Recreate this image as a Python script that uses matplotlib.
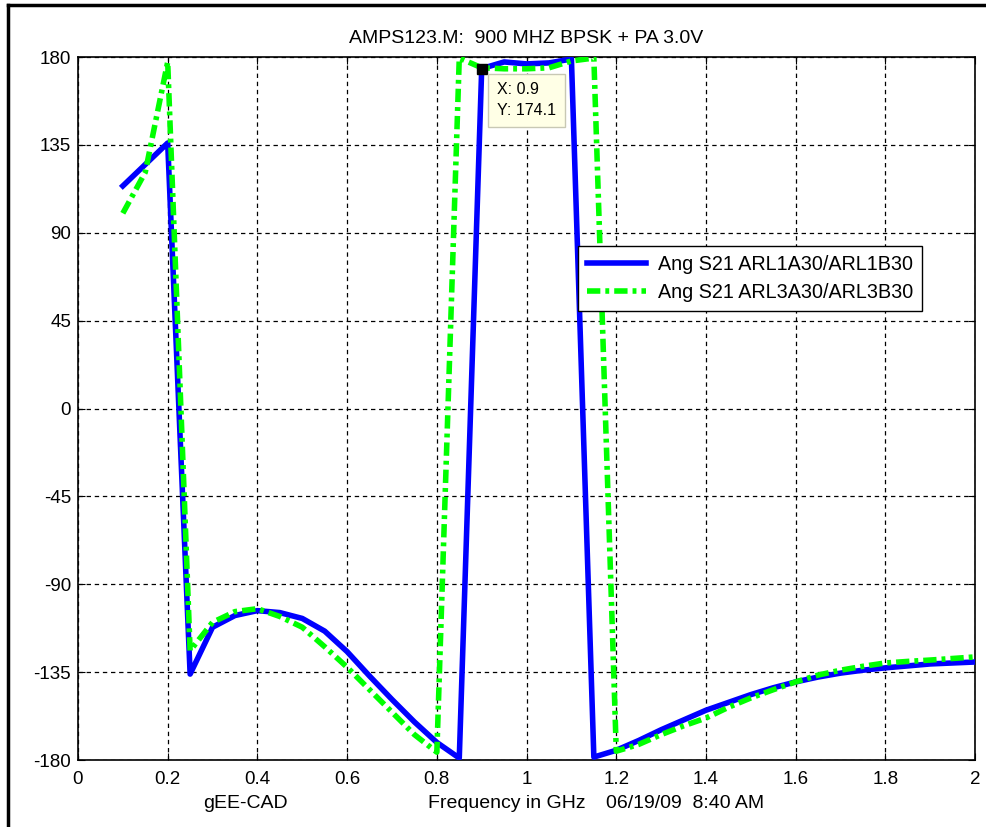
"""Plot the S21 phase response of the two ARL filter sets."""

import matplotlib

matplotlib.use("Agg")
import matplotlib.pyplot as plt
from matplotlib.lines import Line2D
from matplotlib.ticker import FuncFormatter


FREQ_GHZ = [
    0.10, 0.15, 0.20, 0.25, 0.30, 0.35, 0.40, 0.45, 0.50, 0.55,
    0.60, 0.65, 0.70, 0.75, 0.80, 0.85, 0.90, 0.95, 1.00, 1.05,
    1.10, 1.15, 1.20, 1.25, 1.30, 1.35, 1.40, 1.45, 1.50, 1.55,
    1.60, 1.65, 1.70, 1.75, 1.80, 1.85, 1.90, 1.95, 2.00,
]
ANG_ARL1 = [
    114.0, 125.0, 136.0, -136.0, -112.0, -106.0, -103.5, -104.5, -107.5, -114.0,
    -124.5, -137.0, -149.0, -160.5, -171.0, -179.0, 174.1, 177.5, 176.5, 177.0,
    179.0, -178.5, -175.0, -170.0, -164.5, -159.5, -154.5, -150.5, -146.5, -143.0,
    -140.0, -137.5, -135.5, -134.0, -132.8, -131.8, -130.8, -130.3, -129.8,
]
ANG_ARL3 = [
    100.0, 121.0, 177.5, -124.0, -109.5, -104.0, -102.5, -106.5, -112.0, -122.0,
    -132.5, -144.0, -155.5, -167.0, -176.0, 179.5, 174.5, 174.0, 174.0, 174.5,
    178.0, 179.5, -175.5, -172.0, -167.0, -162.5, -158.5, -153.0, -148.2, -144.0,
    -140.0, -136.5, -134.0, -132.0, -130.3, -129.5, -128.8, -128.0, -127.2,
]
LABELS = ["Ang S21 ARL1A30/ARL1B30", "Ang S21 ARL3A30/ARL3B30"]
TIP_X, TIP_Y = 0.9, 174.1

plt.rcParams["font.family"] = ["Liberation Sans", "DejaVu Sans"]
plt.rcParams["font.size"] = 14
plt.rcParams["axes.unicode_minus"] = False


def main():
    fig = plt.figure(figsize=(9.87, 8.27), dpi=100)
    ax = fig.add_axes([0.079, 0.081, 0.909, 0.850])

    ax.plot(FREQ_GHZ, ANG_ARL1, color="#0000FF", lw=4, label=LABELS[0], zorder=3)
    ax.plot(FREQ_GHZ, ANG_ARL3, color="#00FF00", lw=4, dashes=(2.4, 0.9, 0.7, 0.9),
            label=LABELS[1], zorder=3)

    ax.set_xlim(0, 2)
    ax.set_ylim(-180, 180)
    ax.set_xticks([i * 0.2 for i in range(11)])
    ax.set_yticks(range(-180, 181, 45))
    ax.xaxis.set_major_formatter(FuncFormatter(lambda v, _: f"{v:g}"))
    ax.tick_params(direction="in", length=5, top=True, right=True, labelsize=13.5)
    ax.tick_params(axis="x", pad=8)
    ax.tick_params(axis="y", pad=5)
    ax.grid(True, color="black", lw=0.9, linestyle=(0, (3.5, 3)))
    for spine in ax.spines.values():
        spine.set_linewidth(1.2)

    ax.set_title("AMPS123.M:  900 MHZ BPSK + PA 3.0V", fontsize=14, pad=10)
    for xpos, text in [(0.187, "gEE-CAD"), (0.478, "Frequency in GHz"),
                       (0.677, "06/19/09  8:40 AM")]:
        ax.text(xpos, -0.062, text, transform=ax.transAxes, ha="center",
                va="center", fontsize=14)

    leg = ax.legend(loc="upper left", bbox_to_anchor=(0.557, 0.731), fancybox=False,
                    framealpha=1, edgecolor="black", handlelength=3.0,
                    handletextpad=0.6, borderpad=0.45, labelspacing=0.45,
                    borderaxespad=0, fontsize=14.2)
    leg.get_frame().set_linewidth(1.0)

    # data cursor on the ARL1 trace
    ax.plot([TIP_X], [TIP_Y], marker="s", ms=7, color="black", zorder=5)
    ax.annotate(f"X: {TIP_X:g}\nY: {TIP_Y:g}", xy=(TIP_X, TIP_Y), xytext=(11, -10),
                textcoords="offset points", ha="left", va="top", fontsize=11.5,
                linespacing=1.45, zorder=6,
                bbox=dict(boxstyle="square,pad=0.55", fc="#FFFFE6", ec="#C8C8B4",
                          lw=1))

    # window frame edges
    fig.add_artist(Line2D([8.5 / 987, 8.5 / 987], [0, 1 - 5 / 827], color="black",
                          lw=2.5, transform=fig.transFigure))
    fig.add_artist(Line2D([8.5 / 987, 1], [1 - 5 / 827, 1 - 5 / 827], color="black",
                          lw=2.5, transform=fig.transFigure))

    fig.savefig("out.png", dpi=100)
    plt.close(fig)


if __name__ == "__main__":
    main()
